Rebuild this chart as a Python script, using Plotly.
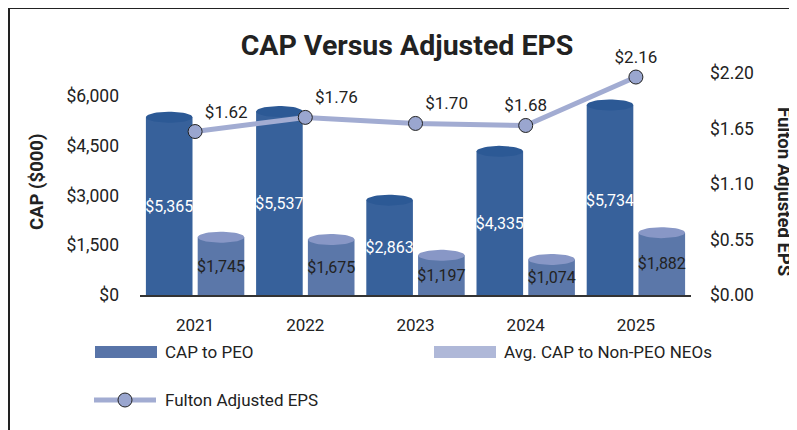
"""
CAP versus Adjusted EPS: cylinder-style grouped bars with an EPS line on a second axis.
"""

import numpy as np
import plotly.graph_objects as go

years = ["2021", "2022", "2023", "2024", "2025"]
cap_peo = [5365, 5537, 2863, 4335, 5734]
cap_neo = [1745, 1675, 1197, 1074, 1882]
adj_eps = [1.62, 1.76, 1.70, 1.68, 2.16]
eps_label_pos = ["top right", "top right", "top right", "top center", "top center"]
cap_ticks = [0, 1500, 3000, 4500, 6000]
eps_ticks = [0, 0.55, 1.10, 1.65, 2.20]

# page body adds an 8px margin, so screen positions are shifted by OFF
OFF = 8
W, H = 797, 430
L, R, T, B = 132, 114, 65, 143
PW, PH = W - L - R, H - T - B
CAP_MAX, EPS_MAX = 6700, 2.20
BARGAP, GROUPGAP = 0.06, 0.1

DARK, DARK_TOP = "#37619b", "#2c5995"
LIGHT, LIGHT_TOP = "#5b77a9", "#8897c6"
LINE, DOT = "#a2acd2", "#9aa6cf"
INK = "#222222"
FONT = "Roboto"


def to_paper(x, y):
    """screen pixel position -> paper coordinates"""
    return (x - OFF - L) / PW, (H - B - (y - OFF)) / PH


def cylinder_tops(values, shift, bar_w):
    """ellipse outlines sitting on each bar's top, joined with gaps"""
    t = np.linspace(0, 2 * np.pi, 48)
    dy = 5.5 * CAP_MAX / PH
    xs, ys = [], []
    for i, v in enumerate(values):
        xs += list(i + shift + bar_w / 2 * np.cos(t)) + [None]
        ys += list(v + dy * np.sin(t)) + [None]
    return xs, ys


idx = list(range(len(years)))
slot = (1 - BARGAP) / 2
bar_w = slot * (1 - GROUPGAP)

fig = go.Figure()
fig.add_trace(go.Bar(
    x=idx, y=cap_peo, name="CAP to PEO", marker_color=DARK, marker_line_width=0,
    text=[f"${v:,}" for v in cap_peo], textposition="inside", insidetextanchor="middle",
    textangle=0, constraintext="none", textfont=dict(color="white", size=16, family=FONT),
    showlegend=False, hoverinfo="skip"))
fig.add_trace(go.Bar(
    x=idx, y=cap_neo, name="Avg. CAP to Non-PEO NEOs", marker_color=LIGHT, marker_line_width=0,
    text=[f"${v:,}" for v in cap_neo], textposition="inside", insidetextanchor="middle",
    textangle=0, constraintext="none", textfont=dict(color=INK, size=16, family=FONT),
    showlegend=False, hoverinfo="skip"))

for values, shift, color in [(cap_peo, -slot / 2, DARK_TOP), (cap_neo, slot / 2, LIGHT_TOP)]:
    ex, ey = cylinder_tops(values, shift, bar_w)
    fig.add_trace(go.Scatter(x=ex, y=ey, mode="lines", fill="toself", fillcolor=color,
                             line=dict(width=0, color=color), showlegend=False, hoverinfo="skip"))

fig.add_trace(go.Scatter(
    x=idx, y=adj_eps, yaxis="y2", name="Fulton Adjusted EPS", mode="lines+markers+text",
    line=dict(color=LINE, width=5),
    marker=dict(size=14, color=DOT, line=dict(color=INK, width=1)),
    text=[f"${v:.2f}" for v in adj_eps], textposition=eps_label_pos,
    textfont=dict(size=17, color=INK, family=FONT), cliponaxis=False, showlegend=False))

# outer frame
fx0, fy0 = to_paper(9, H + 20)
fx1, fy1 = to_paper(W + 20, 8)
shapes = [dict(type="rect", xref="paper", yref="paper", x0=fx0, y0=fy0, x1=fx1, y1=fy1,
               line=dict(color=INK, width=2), fillcolor="rgba(0,0,0,0)")]

# hand-drawn legend with wide swatches
annotations = []
for (sx, sy, color, label) in [(95, 352, "#5874a8", "CAP to PEO"),
                               (434, 352, "#afb8d8", "Avg. CAP to Non-PEO NEOs")]:
    x0, y0 = to_paper(sx, sy + 6)
    x1, y1 = to_paper(sx + 62, sy - 6)
    shapes.append(dict(type="rect", xref="paper", yref="paper", x0=x0, y0=y0, x1=x1, y1=y1,
                       line=dict(width=0), fillcolor=color))
    tx, ty = to_paper(sx + 68, sy)
    annotations.append(dict(text=label, xref="paper", yref="paper", x=tx, y=ty,
                            xanchor="left", yanchor="middle", showarrow=False,
                            font=dict(size=17, color=INK, family=FONT)))

lx0, ly = to_paper(94, 400)
lx1, _ = to_paper(156, 400)
shapes.append(dict(type="line", xref="paper", yref="paper", x0=lx0, y0=ly, x1=lx1, y1=ly,
                   line=dict(color=LINE, width=5)))
cx0, cy0 = to_paper(118, 407)
cx1, cy1 = to_paper(132, 393)
shapes.append(dict(type="circle", xref="paper", yref="paper", x0=cx0, y0=cy0, x1=cx1, y1=cy1,
                   line=dict(color=INK, width=1), fillcolor=DOT))
tx, ty = to_paper(163, 400)
annotations.append(dict(text="Fulton Adjusted EPS", xref="paper", yref="paper", x=tx, y=ty,
                        xanchor="left", yanchor="middle", showarrow=False,
                        font=dict(size=17, color=INK, family=FONT)))

# axis titles
ax, ay = to_paper(37, 182)
annotations.append(dict(text="<b>CAP ($000)</b>", xref="paper", yref="paper", x=ax, y=ay,
                        xanchor="center", yanchor="middle", textangle=-90, showarrow=False,
                        font=dict(size=18.5, color=INK, family=FONT)))
ax, ay = to_paper(784, 191)
annotations.append(dict(text="<b>Fulton Adjusted EPS</b>", xref="paper", yref="paper", x=ax, y=ay,
                        xanchor="center", yanchor="middle", textangle=90, showarrow=False,
                        font=dict(size=18.5, color=INK, family=FONT)))

fig.update_layout(
    width=W, height=H,
    margin=dict(l=L, r=R, t=T, b=B),
    paper_bgcolor="white", plot_bgcolor="white",
    font=dict(family=FONT, color=INK, size=17),
    title=dict(text="<b>CAP Versus Adjusted EPS</b>", x=(407 - OFF) / W, xanchor="center",
               y=1 - (45 - OFF) / H, yanchor="middle",
               font=dict(size=28.5, color=INK, family=FONT)),
    barmode="group", bargap=BARGAP, bargroupgap=GROUPGAP,
    xaxis=dict(range=[-0.5, len(years) - 0.5], tickvals=idx, ticktext=years,
               showline=True, linecolor="#333333", linewidth=2, showgrid=False,
               zeroline=False, ticks="", ticklabelstandoff=14, tickfont=dict(size=17)),
    yaxis=dict(range=[0, CAP_MAX], tickvals=cap_ticks, ticktext=[f"${v:,}" for v in cap_ticks],
               showgrid=False, zeroline=False, ticks="", ticklabelstandoff=20,
               tickfont=dict(size=17.5)),
    yaxis2=dict(range=[0, EPS_MAX], tickvals=eps_ticks, ticktext=[f"${v:.2f}" for v in eps_ticks],
                overlaying="y", side="right", showgrid=False, zeroline=False, ticks="",
                ticklabelstandoff=18, tickfont=dict(size=17.5)),
    shapes=shapes,
    annotations=annotations,
)

fig.write_html("out.html")
